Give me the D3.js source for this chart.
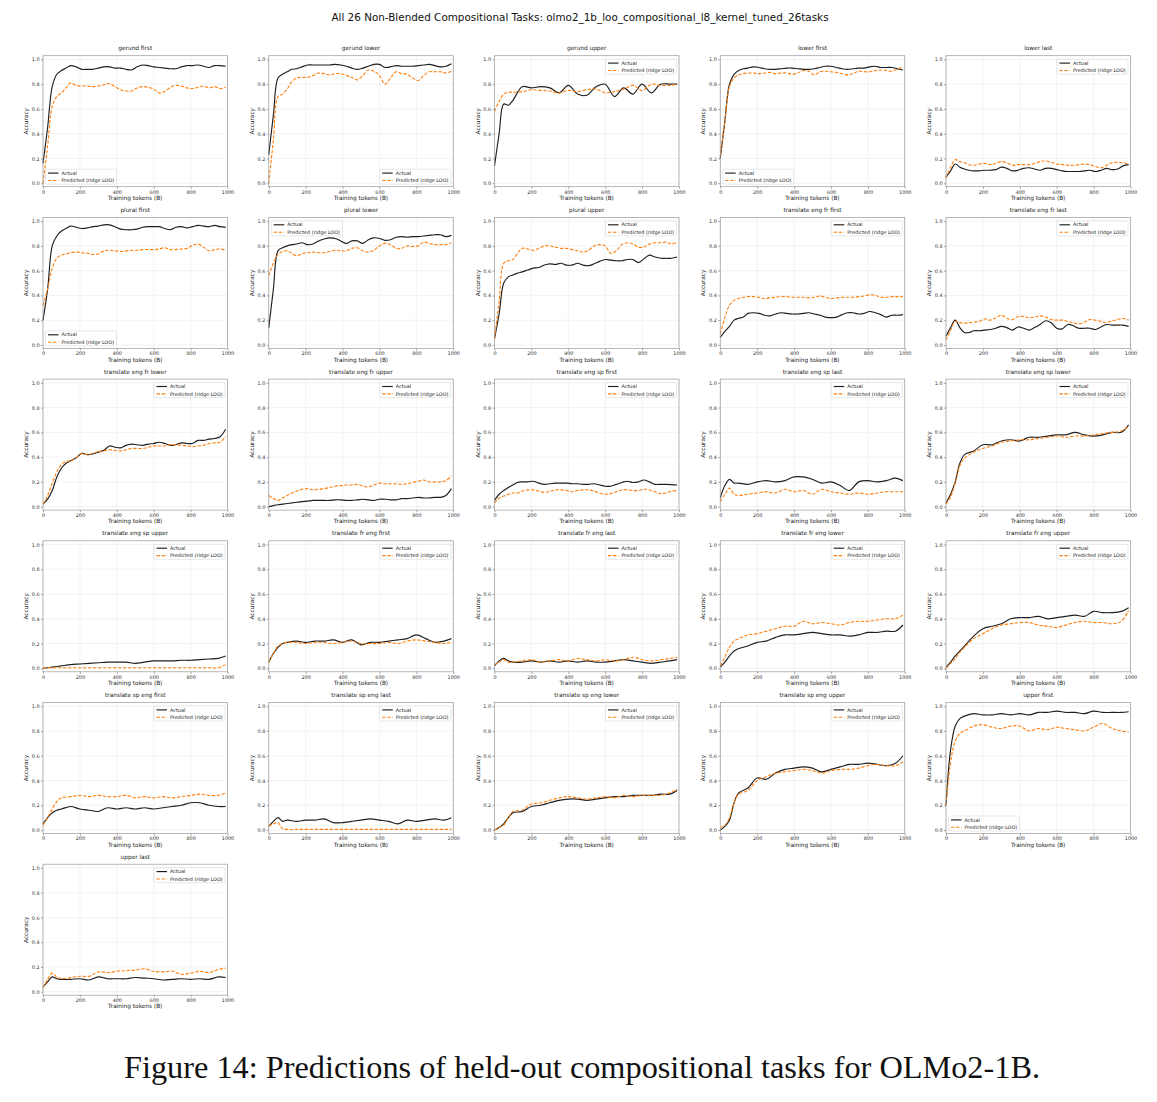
<!DOCTYPE html>
<html>
<head>
<meta charset="utf-8">
<script src="https://cdn.jsdelivr.net/npm/d3@7"></script>
<style>
  html, body { margin: 0; padding: 0; background: #fff; }
  svg { display: block; }
</style>
</head>
<body>
<svg id="chart" width="1157" height="1102"></svg>
<script>
// ---------------- DATA ----------------
const figTitle = "All 26 Non-Blended Compositional Tasks: olmo2_1b_loo_compositional_l8_kernel_tuned_26tasks";
const caption = "Figure 14: Predictions of held-out compositional tasks for OLMo2-1B.";
const xTicks = [0, 200, 400, 600, 800, 1000];
const yTicks = [0.0, 0.2, 0.4, 0.6, 0.8, 1.0];
const seriesNames = ["Actual", "Predicted (ridge LOO)"];

// training tokens (B) – two checkpoint grids
const xsA = [0,25,50,75,100,125,150,180,210,240,270,300,330,360,390,420,450,480,510,540,570,600,630,660,690,720,750,780,810,840,870,900,930,960,990];
const xsB = [0,25,50,75,100,150,200,250,300,350,400,450,500,550,600,650,700,750,800,850,900,950,990];

const taskNames = ["gerund first","gerund lower","gerund upper","lower first","lower last",
  "plural first","plural lower","plural upper","translate eng fr first","translate eng fr last",
  "translate eng fr lower","translate eng fr upper","translate eng sp first","translate eng sp last","translate eng sp lower",
  "translate eng sp upper","translate fr eng first","translate fr eng last","translate fr eng lower","translate fr eng upper",
  "translate sp eng first","translate sp eng last","translate sp eng lower","translate sp eng upper","upper first",
  "upper last"];
const taskGrid = ["A","A","B","A","A","A","A","A","A","A","A","A","A","B","B","B","B","B","B","B","B","B","B","B","B","B"];

const actual_gerund_first = [0.16,0.45,0.78,0.88,0.91,0.93,0.95,0.94,0.92,0.92,0.92,0.93,0.94,0.94,0.93,0.93,0.92,0.915,0.94,0.955,0.95,0.94,0.935,0.93,0.925,0.925,0.94,0.95,0.95,0.955,0.945,0.935,0.95,0.95,0.945];
const pred_gerund_first   = [0.0,0.3,0.62,0.7,0.73,0.77,0.81,0.79,0.785,0.785,0.78,0.785,0.795,0.805,0.78,0.755,0.745,0.745,0.77,0.78,0.775,0.76,0.73,0.74,0.775,0.79,0.785,0.77,0.765,0.775,0.785,0.77,0.78,0.765,0.775];

const actual_gerund_lower = [0.23,0.55,0.85,0.88,0.9,0.92,0.925,0.94,0.955,0.955,0.955,0.955,0.955,0.96,0.955,0.945,0.93,0.92,0.93,0.945,0.96,0.96,0.935,0.94,0.95,0.945,0.945,0.945,0.95,0.955,0.96,0.95,0.94,0.945,0.965];
const pred_gerund_lower   = [0.0,0.35,0.7,0.72,0.76,0.82,0.85,0.855,0.855,0.87,0.89,0.885,0.875,0.885,0.885,0.87,0.855,0.835,0.87,0.915,0.905,0.87,0.8,0.85,0.9,0.885,0.88,0.85,0.83,0.87,0.9,0.9,0.9,0.89,0.905];

const actual_gerund_upper = [0.14,0.4,0.64,0.63,0.67,0.78,0.77,0.78,0.77,0.73,0.79,0.72,0.71,0.78,0.8,0.7,0.77,0.72,0.8,0.73,0.8,0.8,0.8];
const pred_gerund_upper   = [0.58,0.66,0.72,0.735,0.735,0.74,0.755,0.75,0.745,0.73,0.75,0.74,0.755,0.76,0.73,0.74,0.76,0.79,0.75,0.8,0.79,0.79,0.8];

const actual_lower_first = [0.2,0.5,0.8,0.88,0.91,0.925,0.93,0.94,0.935,0.925,0.92,0.92,0.925,0.93,0.93,0.925,0.92,0.92,0.925,0.935,0.945,0.945,0.935,0.925,0.92,0.925,0.93,0.93,0.94,0.945,0.935,0.935,0.935,0.925,0.915];
const pred_lower_first   = [0.22,0.5,0.78,0.85,0.875,0.885,0.89,0.89,0.885,0.89,0.895,0.885,0.89,0.89,0.88,0.89,0.91,0.905,0.875,0.9,0.905,0.9,0.895,0.885,0.875,0.885,0.905,0.9,0.9,0.91,0.915,0.91,0.905,0.92,0.94];

const actual_lower_last = [0.05,0.1,0.155,0.13,0.115,0.105,0.1,0.1,0.105,0.105,0.11,0.13,0.12,0.1,0.105,0.12,0.125,0.115,0.105,0.12,0.12,0.11,0.1,0.095,0.095,0.095,0.1,0.105,0.095,0.105,0.12,0.11,0.115,0.14,0.15];
const pred_lower_last   = [0.04,0.13,0.19,0.175,0.165,0.15,0.145,0.155,0.16,0.15,0.16,0.175,0.165,0.145,0.15,0.15,0.15,0.16,0.175,0.18,0.17,0.155,0.15,0.145,0.145,0.15,0.155,0.15,0.135,0.125,0.145,0.165,0.17,0.165,0.155];

const actual_plural_first = [0.2,0.45,0.8,0.88,0.92,0.94,0.96,0.95,0.94,0.945,0.955,0.96,0.97,0.97,0.955,0.935,0.93,0.93,0.935,0.95,0.955,0.955,0.955,0.94,0.93,0.95,0.955,0.945,0.955,0.965,0.96,0.955,0.965,0.955,0.95];
const pred_plural_first   = [0.32,0.45,0.62,0.7,0.725,0.735,0.745,0.75,0.745,0.74,0.73,0.735,0.76,0.765,0.76,0.755,0.76,0.765,0.765,0.77,0.77,0.77,0.775,0.785,0.77,0.77,0.775,0.78,0.805,0.815,0.79,0.76,0.77,0.775,0.765];

const actual_plural_lower = [0.14,0.45,0.76,0.785,0.8,0.81,0.815,0.825,0.81,0.815,0.84,0.855,0.865,0.86,0.84,0.82,0.84,0.84,0.82,0.85,0.865,0.86,0.845,0.85,0.87,0.875,0.87,0.875,0.875,0.88,0.885,0.89,0.89,0.875,0.885];
const pred_plural_lower   = [0.56,0.66,0.73,0.755,0.76,0.74,0.72,0.735,0.745,0.75,0.745,0.745,0.755,0.765,0.76,0.76,0.78,0.785,0.76,0.75,0.765,0.8,0.82,0.81,0.78,0.78,0.8,0.795,0.8,0.83,0.82,0.81,0.81,0.81,0.825];

const actual_plural_upper = [0.05,0.25,0.5,0.55,0.565,0.58,0.59,0.605,0.62,0.625,0.645,0.655,0.65,0.66,0.645,0.645,0.66,0.645,0.64,0.655,0.675,0.69,0.685,0.68,0.68,0.69,0.69,0.665,0.695,0.725,0.71,0.7,0.7,0.7,0.71];
const pred_plural_upper   = [0.05,0.35,0.66,0.68,0.69,0.74,0.78,0.775,0.765,0.78,0.8,0.8,0.79,0.78,0.78,0.77,0.76,0.75,0.765,0.8,0.81,0.8,0.74,0.76,0.81,0.825,0.815,0.79,0.79,0.815,0.825,0.825,0.83,0.815,0.83];

const actual_eng_fr_first = [0.06,0.11,0.15,0.2,0.215,0.225,0.255,0.26,0.255,0.24,0.235,0.25,0.26,0.255,0.25,0.25,0.255,0.26,0.25,0.24,0.225,0.22,0.225,0.245,0.26,0.26,0.25,0.255,0.27,0.26,0.245,0.225,0.24,0.24,0.245];
const pred_eng_fr_first   = [0.09,0.22,0.32,0.36,0.375,0.385,0.39,0.39,0.385,0.375,0.38,0.385,0.39,0.39,0.385,0.385,0.385,0.38,0.385,0.395,0.385,0.375,0.38,0.385,0.385,0.385,0.39,0.395,0.405,0.4,0.385,0.385,0.39,0.39,0.39];

const actual_eng_fr_last = [0.07,0.14,0.2,0.14,0.1,0.1,0.115,0.115,0.12,0.125,0.135,0.15,0.14,0.12,0.145,0.135,0.12,0.14,0.165,0.195,0.18,0.135,0.13,0.165,0.155,0.135,0.135,0.135,0.125,0.145,0.165,0.16,0.16,0.16,0.15];
const pred_eng_fr_last   = [0.04,0.12,0.19,0.18,0.175,0.18,0.185,0.19,0.21,0.2,0.22,0.24,0.215,0.205,0.23,0.23,0.22,0.225,0.235,0.225,0.205,0.2,0.2,0.19,0.18,0.17,0.185,0.205,0.2,0.19,0.18,0.195,0.205,0.215,0.2];

const actual_eng_fr_lower = [0.02,0.06,0.13,0.24,0.31,0.35,0.37,0.395,0.43,0.42,0.425,0.44,0.455,0.49,0.48,0.475,0.495,0.505,0.5,0.495,0.505,0.51,0.52,0.51,0.495,0.5,0.515,0.51,0.51,0.535,0.535,0.545,0.55,0.565,0.625];
const pred_eng_fr_lower   = [0.02,0.09,0.19,0.28,0.34,0.365,0.37,0.395,0.43,0.42,0.43,0.445,0.45,0.46,0.455,0.45,0.46,0.47,0.47,0.47,0.48,0.49,0.49,0.49,0.5,0.5,0.495,0.49,0.485,0.49,0.495,0.51,0.515,0.52,0.565];

const actual_eng_fr_upper = [0.0,0.008,0.015,0.02,0.025,0.03,0.035,0.04,0.045,0.05,0.05,0.05,0.05,0.055,0.055,0.05,0.05,0.055,0.06,0.055,0.05,0.06,0.06,0.055,0.055,0.065,0.065,0.07,0.075,0.07,0.07,0.075,0.075,0.09,0.145];
const pred_eng_fr_upper   = [0.09,0.065,0.05,0.07,0.09,0.11,0.125,0.14,0.145,0.135,0.14,0.145,0.155,0.165,0.17,0.175,0.175,0.18,0.165,0.16,0.175,0.19,0.185,0.185,0.185,0.18,0.185,0.195,0.205,0.215,0.2,0.2,0.2,0.21,0.25];

const actual_eng_sp_first = [0.05,0.1,0.13,0.155,0.175,0.195,0.2,0.2,0.205,0.19,0.18,0.185,0.19,0.19,0.19,0.185,0.185,0.18,0.18,0.185,0.175,0.165,0.165,0.18,0.195,0.205,0.195,0.2,0.215,0.2,0.18,0.18,0.18,0.178,0.175];
const pred_eng_sp_first   = [0.03,0.07,0.085,0.1,0.11,0.11,0.125,0.135,0.135,0.125,0.115,0.125,0.135,0.135,0.13,0.12,0.13,0.135,0.135,0.125,0.11,0.1,0.105,0.12,0.135,0.135,0.13,0.13,0.14,0.135,0.12,0.105,0.11,0.125,0.13];

const actual_eng_sp_last = [0.07,0.17,0.22,0.19,0.19,0.18,0.2,0.21,0.2,0.21,0.24,0.24,0.22,0.19,0.2,0.17,0.13,0.2,0.21,0.2,0.21,0.23,0.21];
const pred_eng_sp_last   = [0.04,0.1,0.15,0.1,0.09,0.1,0.11,0.12,0.11,0.14,0.12,0.13,0.1,0.14,0.12,0.11,0.1,0.11,0.1,0.11,0.12,0.12,0.12];

const actual_eng_sp_lower = [0.03,0.1,0.2,0.35,0.42,0.45,0.5,0.5,0.53,0.54,0.53,0.56,0.56,0.57,0.58,0.58,0.6,0.58,0.57,0.58,0.6,0.6,0.66];
const pred_eng_sp_lower   = [0.02,0.08,0.19,0.33,0.39,0.44,0.47,0.49,0.52,0.53,0.54,0.54,0.55,0.56,0.57,0.56,0.57,0.57,0.58,0.59,0.6,0.61,0.65];

const actual_eng_sp_upper = [0.0,0.005,0.01,0.015,0.02,0.03,0.035,0.04,0.045,0.05,0.05,0.05,0.04,0.05,0.06,0.06,0.06,0.065,0.065,0.07,0.075,0.08,0.1];
const pred_eng_sp_upper   = [0.0,0.005,0.005,0.005,0.005,0.005,0.005,0.005,0.005,0.005,0.005,0.005,0.005,0.005,0.005,0.005,0.005,0.005,0.005,0.005,0.005,0.005,0.03];

const actual_fr_eng_first = [0.05,0.12,0.17,0.2,0.21,0.22,0.21,0.22,0.22,0.23,0.21,0.23,0.19,0.21,0.21,0.22,0.23,0.24,0.27,0.24,0.21,0.22,0.24];
const pred_fr_eng_first   = [0.05,0.12,0.18,0.2,0.21,0.21,0.2,0.21,0.21,0.2,0.21,0.22,0.2,0.2,0.2,0.21,0.2,0.22,0.23,0.22,0.21,0.2,0.21];

const actual_fr_eng_last = [0.02,0.06,0.08,0.06,0.05,0.05,0.06,0.05,0.06,0.05,0.06,0.05,0.06,0.05,0.05,0.06,0.07,0.06,0.05,0.04,0.05,0.06,0.07];
const pred_fr_eng_last   = [0.03,0.05,0.07,0.05,0.05,0.06,0.07,0.05,0.06,0.07,0.06,0.08,0.07,0.06,0.07,0.06,0.07,0.09,0.07,0.06,0.07,0.08,0.09];

const actual_fr_eng_lower = [0.01,0.05,0.1,0.14,0.16,0.18,0.21,0.22,0.25,0.27,0.27,0.28,0.29,0.28,0.27,0.27,0.26,0.27,0.29,0.29,0.3,0.3,0.35];
const pred_fr_eng_lower   = [0.02,0.09,0.17,0.22,0.24,0.27,0.28,0.3,0.32,0.34,0.34,0.38,0.36,0.37,0.36,0.35,0.37,0.38,0.38,0.39,0.4,0.4,0.43];

const actual_fr_eng_upper = [0.01,0.05,0.1,0.14,0.18,0.26,0.32,0.34,0.36,0.4,0.41,0.41,0.42,0.4,0.41,0.42,0.43,0.42,0.46,0.45,0.45,0.46,0.49];
const pred_fr_eng_upper   = [0.0,0.04,0.08,0.13,0.17,0.24,0.28,0.32,0.35,0.36,0.37,0.37,0.35,0.34,0.33,0.35,0.37,0.38,0.37,0.37,0.36,0.38,0.47];

const actual_sp_eng_first = [0.05,0.1,0.14,0.16,0.17,0.19,0.17,0.16,0.15,0.18,0.17,0.18,0.17,0.18,0.17,0.18,0.19,0.2,0.22,0.22,0.2,0.19,0.19];
const pred_sp_eng_first   = [0.04,0.1,0.17,0.23,0.26,0.27,0.28,0.27,0.28,0.27,0.27,0.28,0.26,0.27,0.26,0.27,0.26,0.27,0.28,0.29,0.28,0.28,0.3];

const actual_sp_eng_last = [0.03,0.07,0.1,0.07,0.08,0.07,0.08,0.08,0.09,0.06,0.06,0.07,0.08,0.09,0.08,0.07,0.05,0.08,0.07,0.08,0.09,0.08,0.1];
const pred_sp_eng_last   = [0.03,0.05,0.06,0.01,0.005,0.005,0.005,0.005,0.005,0.005,0.005,0.005,0.005,0.005,0.005,0.005,0.005,0.005,0.005,0.005,0.005,0.005,0.005];

const actual_sp_eng_lower = [0.0,0.02,0.05,0.1,0.14,0.15,0.19,0.2,0.22,0.24,0.25,0.25,0.24,0.25,0.26,0.27,0.27,0.28,0.28,0.28,0.29,0.29,0.32];
const pred_sp_eng_lower   = [0.0,0.02,0.04,0.1,0.15,0.16,0.21,0.22,0.24,0.26,0.27,0.26,0.25,0.26,0.27,0.26,0.28,0.27,0.28,0.28,0.28,0.3,0.33];

const actual_sp_eng_upper = [0.0,0.03,0.08,0.22,0.3,0.34,0.42,0.41,0.46,0.49,0.5,0.51,0.5,0.47,0.49,0.51,0.53,0.53,0.54,0.53,0.52,0.54,0.6];
const pred_sp_eng_upper   = [0.02,0.04,0.1,0.22,0.29,0.32,0.4,0.43,0.46,0.47,0.48,0.49,0.48,0.46,0.48,0.49,0.49,0.5,0.52,0.53,0.52,0.52,0.55];

const actual_upper_first = [0.2,0.65,0.84,0.9,0.92,0.94,0.93,0.93,0.94,0.93,0.94,0.93,0.95,0.95,0.96,0.95,0.95,0.94,0.96,0.95,0.95,0.95,0.955];
const pred_upper_first   = [0.2,0.55,0.72,0.78,0.8,0.84,0.85,0.83,0.82,0.84,0.84,0.8,0.82,0.81,0.83,0.82,0.81,0.8,0.83,0.86,0.82,0.8,0.79];

const actual_upper_last = [0.04,0.08,0.12,0.105,0.1,0.1,0.105,0.095,0.12,0.105,0.105,0.105,0.115,0.11,0.105,0.095,0.1,0.105,0.1,0.105,0.1,0.12,0.115];
const pred_upper_last   = [0.03,0.1,0.15,0.12,0.105,0.115,0.125,0.125,0.16,0.155,0.165,0.17,0.175,0.185,0.165,0.16,0.165,0.14,0.15,0.165,0.155,0.18,0.19];

const actualSeries = [actual_gerund_first, actual_gerund_lower, actual_gerund_upper, actual_lower_first, actual_lower_last,
  actual_plural_first, actual_plural_lower, actual_plural_upper, actual_eng_fr_first, actual_eng_fr_last,
  actual_eng_fr_lower, actual_eng_fr_upper, actual_eng_sp_first, actual_eng_sp_last, actual_eng_sp_lower,
  actual_eng_sp_upper, actual_fr_eng_first, actual_fr_eng_last, actual_fr_eng_lower, actual_fr_eng_upper,
  actual_sp_eng_first, actual_sp_eng_last, actual_sp_eng_lower, actual_sp_eng_upper, actual_upper_first, actual_upper_last];
const predSeries = [pred_gerund_first, pred_gerund_lower, pred_gerund_upper, pred_lower_first, pred_lower_last,
  pred_plural_first, pred_plural_lower, pred_plural_upper, pred_eng_fr_first, pred_eng_fr_last,
  pred_eng_fr_lower, pred_eng_fr_upper, pred_eng_sp_first, pred_eng_sp_last, pred_eng_sp_lower,
  pred_eng_sp_upper, pred_fr_eng_first, pred_fr_eng_last, pred_fr_eng_lower, pred_fr_eng_upper,
  pred_sp_eng_first, pred_sp_eng_last, pred_sp_eng_lower, pred_sp_eng_upper, pred_upper_first, pred_upper_last];

// ---------------- LAYOUT ----------------
const legendLoc = ["ll","lr","ur","ll","ur","ll","ul","ur","ur","ur","ur","ur","ur","ur","ur",
  "ur","ur","ur","ur","ur","ur","ur","ur","ur","ll","ur"];
const W = 1157, H = 1102;
const nCols = 5;
const colX0 = 43, colStep = 225.75, pw = 184.5;
const rowY0 = 55.7, rowStep = 161.7, ph = 131;
const FONT = "'DejaVu Sans', sans-serif";
const ACT_COLOR = "#1f1f1f", PRED_COLOR = "#ff7f0e";

const svg = d3.select("#chart");
svg.append("rect").attr("width", W).attr("height", H).attr("fill", "#fff");

svg.append("text").attr("x", 580).attr("y", 21).attr("text-anchor", "middle")
  .attr("font-family", FONT).attr("font-size", 10.4).attr("fill", "#111").text(figTitle);

const x = d3.scaleLinear().domain([0, 1000]).range([0, pw]);
const y = d3.scaleLinear().domain([-0.028, 1.03]).range([ph, 0]);
const line = d3.line().x(d => x(d[0])).y(d => y(d[1])).curve(d3.curveCatmullRom.alpha(0.5));

taskNames.forEach((name, i) => {
  const c = i % nCols, r = Math.floor(i / nCols);
  const g = svg.append("g").attr("transform", `translate(${colX0 + c * colStep},${rowY0 + r * rowStep})`);
  const xs = taskGrid[i] === "A" ? xsA : xsB;
  const act = xs.map((xv, k) => [xv, actualSeries[i][k]]);
  const pred = xs.map((xv, k) => [xv, predSeries[i][k]]);

  // grid
  g.append("g").selectAll("line").data(xTicks).join("line")
    .attr("x1", d => x(d)).attr("x2", d => x(d)).attr("y1", 0).attr("y2", ph)
    .attr("stroke", "#e6e6e6").attr("stroke-width", 0.5);
  g.append("g").selectAll("line").data(yTicks).join("line")
    .attr("y1", d => y(d)).attr("y2", d => y(d)).attr("x1", 0).attr("x2", pw)
    .attr("stroke", "#e6e6e6").attr("stroke-width", 0.5);

  // axes
  const xa = g.append("g").attr("transform", `translate(0,${ph})`)
    .call(d3.axisBottom(x).tickValues(xTicks).tickSize(2).tickPadding(1.5).tickFormat(d3.format("d")));
  const ya = g.append("g")
    .call(d3.axisLeft(y).tickValues(yTicks).tickSize(2).tickPadding(1.5).tickFormat(d3.format(".1f")));
  [xa, ya].forEach(a => {
    a.select(".domain").remove();
    a.selectAll("line").attr("stroke", "#666").attr("stroke-width", 0.6);
    a.selectAll("text").attr("font-family", FONT).attr("font-size", 4.9).attr("fill", "#333");
  });

  // lines
  g.append("path").datum(act).attr("d", line).attr("fill", "none")
    .attr("stroke", ACT_COLOR).attr("stroke-width", 1.15);
  g.append("path").datum(pred).attr("d", line).attr("fill", "none")
    .attr("stroke", PRED_COLOR).attr("stroke-width", 1.1).attr("stroke-dasharray", "3.4,1.6");

  // frame
  g.append("rect").attr("width", pw).attr("height", ph).attr("fill", "none")
    .attr("stroke", "#9a9a9a").attr("stroke-width", 0.7);

  // titles and labels
  g.append("text").attr("x", pw / 2).attr("y", -5.5).attr("text-anchor", "middle")
    .attr("font-family", FONT).attr("font-size", 5.8).attr("fill", "#222").text(name);
  g.append("text").attr("x", pw / 2).attr("y", ph + 13.3).attr("text-anchor", "middle")
    .attr("font-family", FONT).attr("font-size", 5.8).attr("fill", "#222").text("Training tokens (B)");
  g.append("text").attr("transform", `translate(-14.8,${ph / 2}) rotate(-90)`).attr("text-anchor", "middle")
    .attr("font-family", FONT).attr("font-size", 5.8).attr("fill", "#222").text("Accuracy");

  // legend
  const lw = 71, lh = 15, pad = 2.5;
  const loc = legendLoc[i];
  const lx = loc[1] === "r" ? pw - pad - lw : pad;
  const ly = loc[0] === "u" ? pad + 1 : ph - pad - lh;
  const lg = g.append("g").attr("transform", `translate(${lx},${ly})`);
  lg.append("rect").attr("width", lw).attr("height", lh).attr("rx", 1.5)
    .attr("fill", "#fff").attr("fill-opacity", 0.85).attr("stroke", "#d0d0d0").attr("stroke-width", 0.5);
  seriesNames.forEach((s, k) => {
    const yy = 3.9 + k * 7.4;
    lg.append("line").attr("x1", 2.5).attr("x2", 13).attr("y1", yy).attr("y2", yy)
      .attr("stroke", k === 0 ? ACT_COLOR : PRED_COLOR).attr("stroke-width", k === 0 ? 1.15 : 1.1)
      .attr("stroke-dasharray", k === 0 ? null : "3.4,1.6");
    lg.append("text").attr("x", 16).attr("y", yy + 1.7)
      .attr("font-family", FONT).attr("font-size", 4.9).attr("fill", "#222").text(s);
  });
});

svg.append("text").attr("x", 582).attr("y", 1078).attr("text-anchor", "middle")
  .attr("font-family", "'Liberation Serif', 'DejaVu Serif', serif").attr("font-size", 32)
  .attr("fill", "#111").attr("textLength", 916).attr("lengthAdjust", "spacingAndGlyphs").text(caption);
</script>
</body>
</html>
